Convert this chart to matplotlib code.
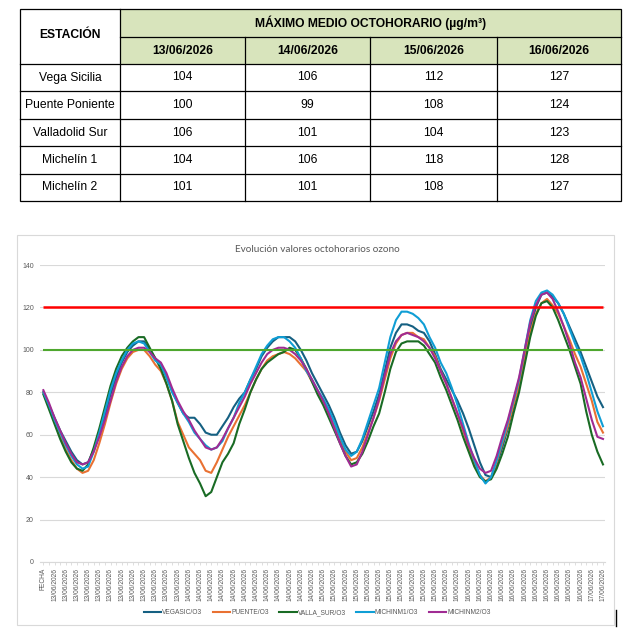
"""
plot.py - Ozone 8-hour table + hourly evolution chart (13-17/06/2026).
"""

import matplotlib

matplotlib.use("Agg")
import matplotlib.pyplot as plt
from matplotlib.lines import Line2D
from matplotlib.patches import Rectangle

# ---------------------------------------------------------------------------
# Data
# ---------------------------------------------------------------------------

STATIONS = ["Vega Sicilia", "Puente Poniente", "Valladolid Sur", "Michelín 1", "Michelín 2"]
DATES = ["13/06/2026", "14/06/2026", "15/06/2026", "16/06/2026"]
MAX_8H = [
    [104, 106, 112, 127],
    [100, 99, 108, 124],
    [106, 101, 104, 123],
    [104, 106, 118, 128],
    [101, 101, 108, 127],
]

# category labels of the Excel chart (header cell + hourly rows)
CATEGORIES = (
    ["FECHA"]
    + ["13/06/2026"] * 24
    + ["14/06/2026"] * 24
    + ["15/06/2026"] * 24
    + ["16/06/2026"] * 24
    + ["17/06/2026"] * 4
)

VEGASIC = [
    80, 74, 68, 62, 57, 52, 48, 46, 47, 53,
    60, 69, 79, 87, 94, 99, 102, 104, 104, 100,
    96, 93, 87, 81, 75, 70, 68, 68, 65, 61,
    60, 60, 64, 68, 73, 77, 80, 86, 91, 97,
    101, 104, 106, 106, 106, 104, 100, 95, 89, 84,
    79, 74, 68, 61, 55, 51, 52, 57, 64, 71,
    79, 90, 101, 108, 112, 112, 111, 109, 108, 104,
    98, 91, 86, 81, 76, 70, 63, 55, 47, 41,
    40, 46, 54, 63, 73, 84, 97, 110, 120, 126,
    127, 125, 122, 117, 111, 105, 99, 92, 85, 78,
    73,
]
PUENTE = [
    80, 73, 66, 59, 53, 48, 44, 42, 43, 48,
    56, 65, 75, 84, 91, 96, 99, 100, 100, 97,
    93, 90, 84, 76, 66, 60, 54, 51, 48, 43,
    42, 47, 53, 59, 64, 69, 74, 80, 86, 91,
    95, 97, 98, 99, 98, 96, 93, 90, 85, 80,
    75, 70, 64, 58, 52, 48, 49, 54, 61, 68,
    76, 86, 96, 103, 107, 108, 108, 106, 105, 101,
    97, 90, 84, 77, 70, 62, 54, 47, 41, 38,
    40, 47, 56, 64, 74, 83, 96, 108, 117, 122,
    124, 121, 117, 111, 105, 98, 92, 84, 76, 66,
    61,
]
VALLA_SUR = [
    79, 72, 65, 58, 52, 47, 44, 43, 46, 54,
    63, 73, 83, 91, 97, 101, 104, 106, 106, 101,
    96, 91, 84, 76, 65, 57, 49, 42, 37, 31,
    33, 40, 47, 51, 56, 65, 72, 80, 86, 91,
    94, 96, 98, 99, 101, 100, 96, 91, 85, 79,
    74, 68, 62, 56, 50, 46, 47, 51, 57, 64,
    70, 80, 91, 99, 103, 104, 104, 104, 102, 98,
    94, 87, 81, 74, 67, 59, 52, 45, 40, 38,
    39, 44, 51, 59, 70, 80, 93, 106, 116, 122,
    123, 120, 114, 107, 100, 92, 84, 71, 60, 52,
    46,
]
MICHINM1 = [
    80, 74, 67, 61, 55, 50, 46, 44, 45, 52,
    61, 71, 81, 89, 95, 100, 103, 104, 103, 99,
    95, 93, 87, 80, 75, 70, 66, 61, 58, 55,
    53, 54, 57, 63, 68, 75, 80, 86, 92, 98,
    102, 105, 106, 106, 104, 101, 96, 90, 86, 81,
    77, 72, 66, 59, 53, 50, 52, 58, 66, 74,
    82, 94, 106, 114, 118, 118, 117, 115, 112, 106,
    101, 94, 89, 82, 74, 65, 56, 48, 41, 37,
    40, 48, 57, 66, 76, 86, 100, 114, 123, 127,
    128, 126, 122, 117, 110, 103, 97, 89, 80, 71,
    64,
]
MICHINM2 = [
    81, 75, 68, 62, 56, 51, 47, 46, 47, 52,
    59, 67, 76, 85, 92, 97, 100, 101, 101, 99,
    96, 94, 89, 82, 76, 71, 67, 62, 58, 54,
    53, 54, 58, 63, 68, 73, 78, 84, 89, 94,
    98, 100, 101, 101, 100, 98, 95, 91, 86, 81,
    76, 70, 63, 56, 50, 45, 46, 52, 60, 68,
    77, 88, 98, 104, 107, 108, 107, 106, 104, 101,
    96, 90, 84, 77, 70, 63, 55, 49, 44, 42,
    43, 50, 59, 67, 77, 87, 100, 113, 121, 126,
    127, 124, 118, 111, 103, 94, 87, 77, 67, 59,
    58,
]

SERIES = [
    ("VEGASIC/O3", VEGASIC, "#156082"),
    ("PUENTE/O3", PUENTE, "#E97132"),
    ("VALLA_SUR/O3", VALLA_SUR, "#196B24"),
    ("MICHINM1/O3", MICHINM1, "#0F9ED5"),
    ("MICHINM2/O3", MICHINM2, "#A02B93"),
]

UMBRAL_INFO = 120  # red line
OBJETIVO = 100  # green line

# ---------------------------------------------------------------------------
# Layout (pixels of a 629x631 canvas)
# ---------------------------------------------------------------------------

W, H = 629, 631
COL_EDGES = [20, 120, 245, 370, 497, 621]
ROW_EDGES = [9, 37, 64, 91, 119, 146, 174, 201]
HEADER_FILL = "#D8E4BC"
TABLE_FONT = "Liberation Sans"
TABLE_FS = 8.75
GREY_TXT = "#595959"
GRID = "#D9D9D9"


def fx(px):
    return px / W


def fy(py):
    return 1 - py / H


def draw_table(fig):
    ax = fig.add_axes([0, 0, 1, 1])
    ax.set_xlim(0, W)
    ax.set_ylim(H, 0)
    ax.axis("off")

    x0, x1 = COL_EDGES[0], COL_EDGES[-1]
    y0, y1 = ROW_EDGES[0], ROW_EDGES[-1]

    # green header block
    ax.add_patch(Rectangle((COL_EDGES[1], y0), x1 - COL_EDGES[1], ROW_EDGES[2] - y0,
                           facecolor=HEADER_FILL, edgecolor="none"))

    lw = 0.9
    ax.add_patch(Rectangle((x0, y0), x1 - x0, y1 - y0, fill=False, edgecolor="black", lw=lw))
    ax.plot([COL_EDGES[1]] * 2, [y0, y1], color="black", lw=lw)
    for cx in COL_EDGES[2:-1]:
        ax.plot([cx, cx], [ROW_EDGES[1], y1], color="black", lw=lw)
    ax.plot([COL_EDGES[1], x1], [ROW_EDGES[1]] * 2, color="black", lw=lw)
    for ry in ROW_EDGES[2:-1]:
        ax.plot([x0, x1], [ry, ry], color="black", lw=lw)

    kw = dict(ha="center", va="center", family=TABLE_FONT, fontsize=TABLE_FS, color="black")
    ax.text((COL_EDGES[0] + COL_EDGES[1]) / 2, (ROW_EDGES[0] + ROW_EDGES[2]) / 2 - 1,
            "ESTACIÓN", fontweight="bold", **kw)
    ax.text((COL_EDGES[1] + x1) / 2, (ROW_EDGES[0] + ROW_EDGES[1]) / 2,
            "MÁXIMO MEDIO OCTOHORARIO (µg/m³)", fontweight="bold", **kw)
    for j, d in enumerate(DATES):
        ax.text((COL_EDGES[j + 1] + COL_EDGES[j + 2]) / 2, (ROW_EDGES[1] + ROW_EDGES[2]) / 2,
                d, fontweight="bold", **kw)
    for r, name in enumerate(STATIONS):
        cy = (ROW_EDGES[r + 2] + ROW_EDGES[r + 3]) / 2
        ax.text((COL_EDGES[0] + COL_EDGES[1]) / 2, cy, name, **kw)
        for j, v in enumerate(MAX_8H[r]):
            ax.text((COL_EDGES[j + 1] + COL_EDGES[j + 2]) / 2, cy, str(v), **kw)


def draw_chart(fig):
    # chart area frame
    fig.add_artist(Rectangle((fx(17), fy(625)), fx(614) - fx(17), fy(235) - fy(625),
                             transform=fig.transFigure, fill=False, edgecolor=GRID, lw=0.8))
    fig.add_artist(Line2D([fx(615.5)] * 2, [fy(610), fy(626)], transform=fig.transFigure,
                          color="black", lw=1.0))

    ax = fig.add_axes([fx(40), fy(562), fx(605) - fx(40), fy(265) - fy(562)])
    idx = list(range(len(CATEGORIES)))

    for label, values, color in SERIES:
        ax.plot(idx, values, color=color, lw=1.5, label=label, solid_joinstyle="round")
    ax.hlines(UMBRAL_INFO, idx[0], idx[-1], color="#FF0000", lw=1.8)
    ax.hlines(OBJETIVO, idx[0], idx[-1], color="#4EA72E", lw=1.5)

    ax.set_ylim(0, 140)
    ax.set_yticks(range(0, 141, 20))
    ax.set_xlim(-0.6, len(CATEGORIES) - 1 + 0.36)
    ax.set_xticks(idx[::2])
    ax.set_xticklabels(CATEGORIES[::2], rotation=90, fontsize=4.8, color=GREY_TXT,
                       family=TABLE_FONT)
    ax.set_xticks(idx, minor=True)
    ax.tick_params(axis="x", which="both", length=2.5, color=GRID, width=0.6, pad=1.5)
    ax.tick_params(axis="y", length=0, pad=4.5, labelsize=5, labelcolor=GREY_TXT)
    for t in ax.get_yticklabels():
        t.set_family(TABLE_FONT)

    ax.grid(axis="y", color=GRID, lw=0.8)
    ax.set_axisbelow(True)
    for side in ("top", "right", "left"):
        ax.spines[side].set_visible(False)
    ax.spines["bottom"].set_color(GRID)
    ax.spines["bottom"].set_linewidth(0.8)

    fig.text(fx(317), fy(249), "Evolución valores octohorarios ozono", ha="center",
             va="center", fontsize=7.2, color=GREY_TXT, family="Lato")

    handles, labels = ax.get_legend_handles_labels()
    leg = fig.legend(handles, labels, loc="center", bbox_to_anchor=(fx(317), fy(613)),
                     ncol=5, frameon=False, handlelength=2.6,
                     handletextpad=0.15, columnspacing=1.6,
                     prop={"family": TABLE_FONT, "size": 4.8})
    for t in leg.get_texts():
        t.set_color(GREY_TXT)


def main():
    fig = plt.figure(figsize=(W / 100, H / 100), dpi=100)
    fig.patch.set_facecolor("white")
    draw_table(fig)
    draw_chart(fig)
    fig.savefig("out.png", dpi=100)
    plt.close(fig)


if __name__ == "__main__":
    main()
